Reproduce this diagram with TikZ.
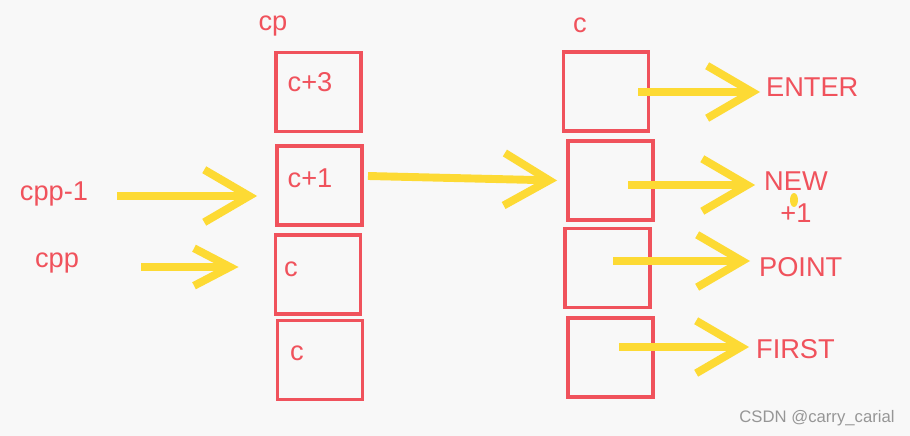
\documentclass[tikz,border=0pt]{standalone}
\usepackage{fontspec}
\setmainfont{Liberation Sans}
\usepackage{xcolor}
\usepackage{tikz}
\usetikzlibrary{arrows.meta, positioning}
\definecolor{boxred}{RGB}{240, 82, 92}
\definecolor{arrowyellow}{RGB}{253, 218, 52}
\definecolor{paper}{RGB}{248, 248, 248}
\definecolor{markgray}{RGB}{150, 150, 150}

\begin{document}
\begin{tikzpicture}[
    x=0.02cm, y=-0.02cm,
    cell/.style={rectangle, draw=boxred, line width=2.2pt, minimum width=1.7cm, minimum height=1.58cm},
    tag/.style={font=\fontsize{15.5}{18}\selectfont, text=boxred, inner sep=1pt},
    arrow/.style={draw=arrowyellow, line width=4.5pt,
                  -{Straight Barb[length=0.9cm, width=1.05cm]}},
    small arrow/.style={arrow, -{Straight Barb[length=0.72cm, width=0.75cm]}}
]

\fill[paper] (0,0) rectangle (910,436);

% left column
\node[cell] (box1) at (318.5,92) {};
\node[cell] (box2) at (319.5,185.5) {};
\node[cell] (box3) at (318,274.5) {};
\node[cell] (box4) at (320,360) {};
\node[tag] (cp) at (273,26) {cp};
\node[tag] (t1) at (310,82) {c+3};
\node[tag] (t2) at (310,178) {c+1};
\node[tag] (t3) at (291,269) {c};
\node[tag] (t4) at (297,353) {c};

% right column
\node[cell] (r1) at (606,91.5) {};
\node[cell] (r2) at (610.5,180.5) {};
\node[cell] (r3) at (607.5,268) {};
\node[cell] (r4) at (610.5,357.5) {};
\node[tag] (c) at (580,25) {c};

\node[tag] (cppm) at (54,194) {cpp-1};
\node[tag] (cpp) at (57,263) {cpp};

\node[tag, anchor=west] (enter) at (764,87) {ENTER};
\node[tag] (new) at (796,181) {NEW};
\node[tag] (plus) at (796,213) {+1};
\node[tag, anchor=west] (point) at (757,267) {POINT};
\node[tag, anchor=west] (first) at (754,349) {FIRST};

% pointers
\coordinate (s1) at (117,196);
\coordinate (s2) at (141,267);
\coordinate (s3) at (368,176);
\coordinate (e1) at (638,92);
\coordinate (e2) at (628,185);
\coordinate (e3) at (613,261);
\coordinate (e4) at (619,347);

\draw[arrow] (s1) -- ([xshift=-0.36cm]s1 -| box2.west);
\draw[small arrow] (s2) -- ([xshift=-0.7cm]s2 -| box3.west);
\draw[arrow] (s3) -- ([xshift=-0.18cm]r2.west);
\draw[arrow] (e1) -- ([xshift=-0.08cm]e1 -| enter.west);
\draw[arrow] (e2) -- ([xshift=-0.14cm]e2 -| new.west);
\draw[arrow] (e3) -- ([xshift=-0.14cm]e3 -| point.west);
\draw[arrow] (e4) -- ([xshift=-0.1cm]e4 -| first.west);

\fill[arrowyellow] (794,200) ellipse (4 and 7);

\node[font=\fontsize{9.5}{11}\selectfont, text=markgray] (mark) at (817,418) {CSDN @carry\_carial};

\end{tikzpicture}
\end{document}
